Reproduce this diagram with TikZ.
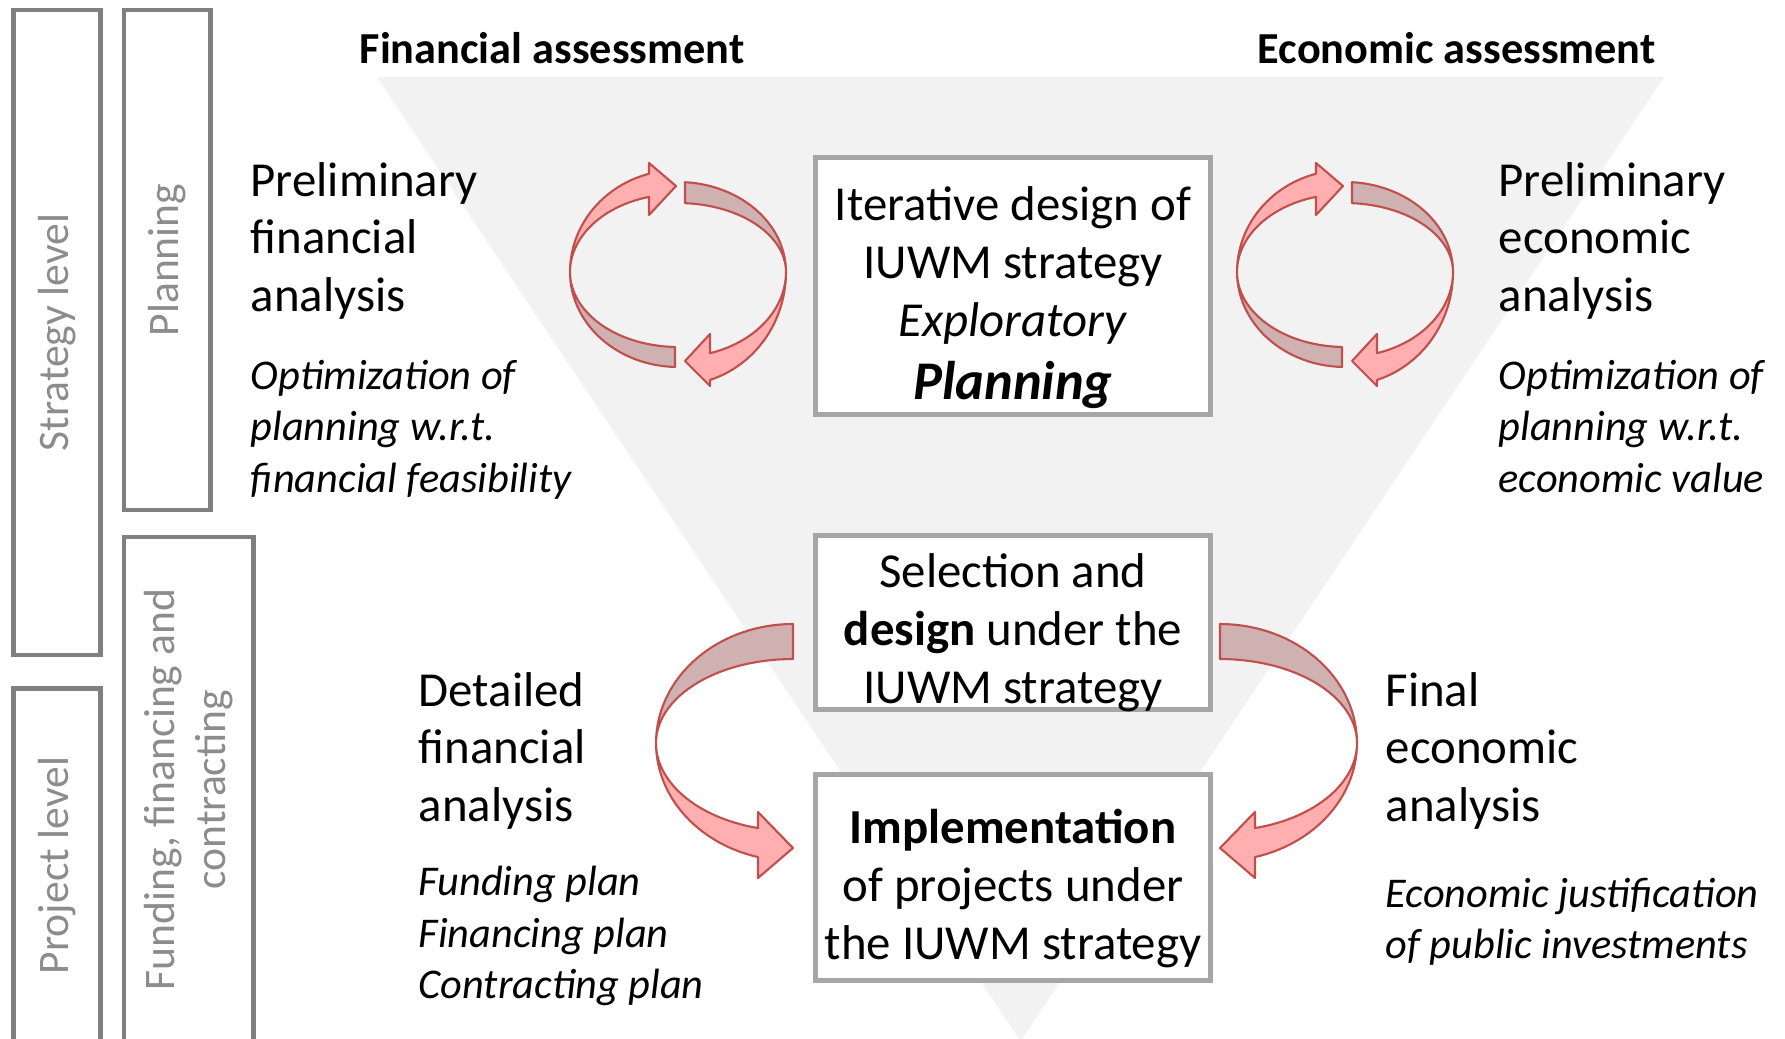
\documentclass[tikz,border=0pt]{standalone}
\usepackage{fontspec}
\setmainfont{Carlito}
\usepackage{xcolor}

\definecolor{tri}{HTML}{F2F2F2}
\definecolor{boxgray}{HTML}{A6A6A6}
\definecolor{bargray}{HTML}{7F7F7F}
\definecolor{bartext}{HTML}{8C8C8C}
\definecolor{arrlight}{HTML}{FFAFAF}
\definecolor{arrdark}{HTML}{D0B1B1}
\definecolor{arredge}{HTML}{C0504D}

\begin{document}
\begin{tikzpicture}[x=0.1mm, y=-0.1mm,
    box/.style={draw=boxgray, line width=1.4pt, fill=white, minimum width=39.5mm, inner sep=0pt},
    boxtext/.style={align=center, inner sep=0pt, font=\fontsize{13.9}{16.5}\selectfont},
    bar/.style={draw=bargray, line width=1.3pt, rotate=90, text=bartext,
        align=center, inner sep=0pt, font=\fontsize{12.4}{14.6}\selectfont},
    head/.style={anchor=base west, inner sep=0pt, font=\fontsize{12.6}{15}\selectfont\bfseries},
    txt/.style={anchor=base west, align=left, inner sep=0pt, font=\fontsize{13.9}{16.3}\selectfont},
    itxt/.style={anchor=base west, align=left, inner sep=0pt, font=\fontsize{12.05}{14.6}\selectfont\itshape},
    front/.style={fill=arrlight, draw=arredge, line width=0.6pt, line join=round},
    back/.style={fill=arrdark, draw=arredge, line width=0.6pt, line join=round}]

    \useasboundingbox (0,0) rectangle (1785,1038);
    \clip (0,0) rectangle (1785,1038);

    % funnel
    \fill[tri] (377,77) -- (1664,77) -- (1020.5,1041) -- cycle;

    \node[head] (fin) at (359,63) {Financial assessment};
    \node[head] (eco) at (1257,63) {Economic assessment};

    % level bars on the left
    \node[bar, minimum width=64.46mm, minimum height=8.65mm] (strat) at (57,332.5) {Strategy level};
    \node[bar, minimum width=35.33mm, minimum height=8.65mm] (proj) at (57,865.35) {Project level};
    \node[bar, minimum width=49.96mm, minimum height=8.67mm] (plan) at (167.35,260) {Planning};
    \node[bar, minimum width=50.48mm, minimum height=12.96mm] (fund) at (188.8,789.6) {Funding, financing and\\contracting};

    % the three stages
    \node[box, minimum height=25.7mm] (iter) at (1013,286) {};
    \node[box, minimum height=17.4mm] (sel) at (1013,622.5) {};
    \node[box, minimum height=20.6mm] (impl) at (1013,877.5) {};
    \node[boxtext] (itert) at (1013,298)
        {Iterative design of\\IUWM strategy\\\textit{Exploratory}\\[1.5pt]{\fontsize{15.5}{16.5}\selectfont\bfseries\itshape Planning}};
    \node[boxtext] (selt) at (1013,633)
        {Selection and\\\textbf{design} under the\\IUWM strategy};
    \node[boxtext] (implt) at (1013,888.5)
        {\textbf{Implementation}\\of projects under\\the IUWM strategy};

    % side notes (anchored at the last line)
    \node[txt] (pfa) at (250,311) {Preliminary\\financial\\analysis};
    \node[itxt] (pfo) at (250,492) {Optimization of\\planning w.r.t.\\financial feasibility};
    \node[txt] (pea) at (1498,311) {Preliminary\\economic\\analysis};
    \node[itxt] (peo) at (1498,492) {Optimization of\\planning w.r.t.\\economic value};
    \node[txt] (dfa) at (418,821) {Detailed\\financial\\analysis};
    \node[itxt] (dfp) at (418,998.6) {Funding plan\\Financing plan\\Contracting plan};
    \node[txt] (fea) at (1385,821) {Final\\economic\\analysis};
    \node[itxt] (fej) at (1385,958.7) {Economic justification\\of public investments};

    % iteration loops
    \foreach \dx in {0,667}{
        \begin{scope}[shift={(\dx,0)}]
            \filldraw[back] plot[domain=273.72:360, samples=30] ({678+108*cos(\x)},{272+90*sin(\x)})
                -- plot[domain=360:273.72, samples=30] ({678+108*cos(\x)},{272+69*sin(\x)}) -- cycle;
            \filldraw[back] plot[domain=91.59:180, samples=30] ({678+108*cos(\x)},{272+95*sin(\x)})
                -- plot[domain=180:91.59, samples=30] ({678+108*cos(\x)},{272+75*sin(\x)}) -- cycle;
            \filldraw[front] plot[domain=180:254.43, samples=30] ({678+108*cos(\x)},{272+102*sin(\x)})
                -- (649,163) -- (676,186) -- (649,215)
                -- plot[domain=254.43:180, samples=30] ({678+108*cos(\x)},{272+78*sin(\x)}) -- cycle;
            \filldraw[front] plot[domain=0:72.76, samples=30] ({678+108*cos(\x)},{272+113*sin(\x)})
                -- (710,386) -- (685,361) -- (710,334)
                -- plot[domain=72.76:0, samples=30] ({678+108*cos(\x)},{272+85*sin(\x)}) -- cycle;
        \end{scope}
    }

    % hand-over arrows between the stages
    \foreach \m/\s in {0/1,2013/-1}{
        \begin{scope}[shift={(\m,0)}, xscale=\s]
            \filldraw[back] plot[domain=270:180, samples=30] ({793+137*cos(\x)},{743+119*sin(\x)})
                -- plot[domain=180:270, samples=30] ({793+137*cos(\x)},{743+84*sin(\x)}) -- cycle;
            \filldraw[front] plot[domain=180:104.8, samples=30] ({793+137*cos(\x)},{743+118*sin(\x)})
                -- (758,878) -- (793,848) -- (758,812)
                -- plot[domain=104.8:180, samples=30] ({793+137*cos(\x)},{743+88*sin(\x)}) -- cycle;
        \end{scope}
    }
\end{tikzpicture}
\end{document}
